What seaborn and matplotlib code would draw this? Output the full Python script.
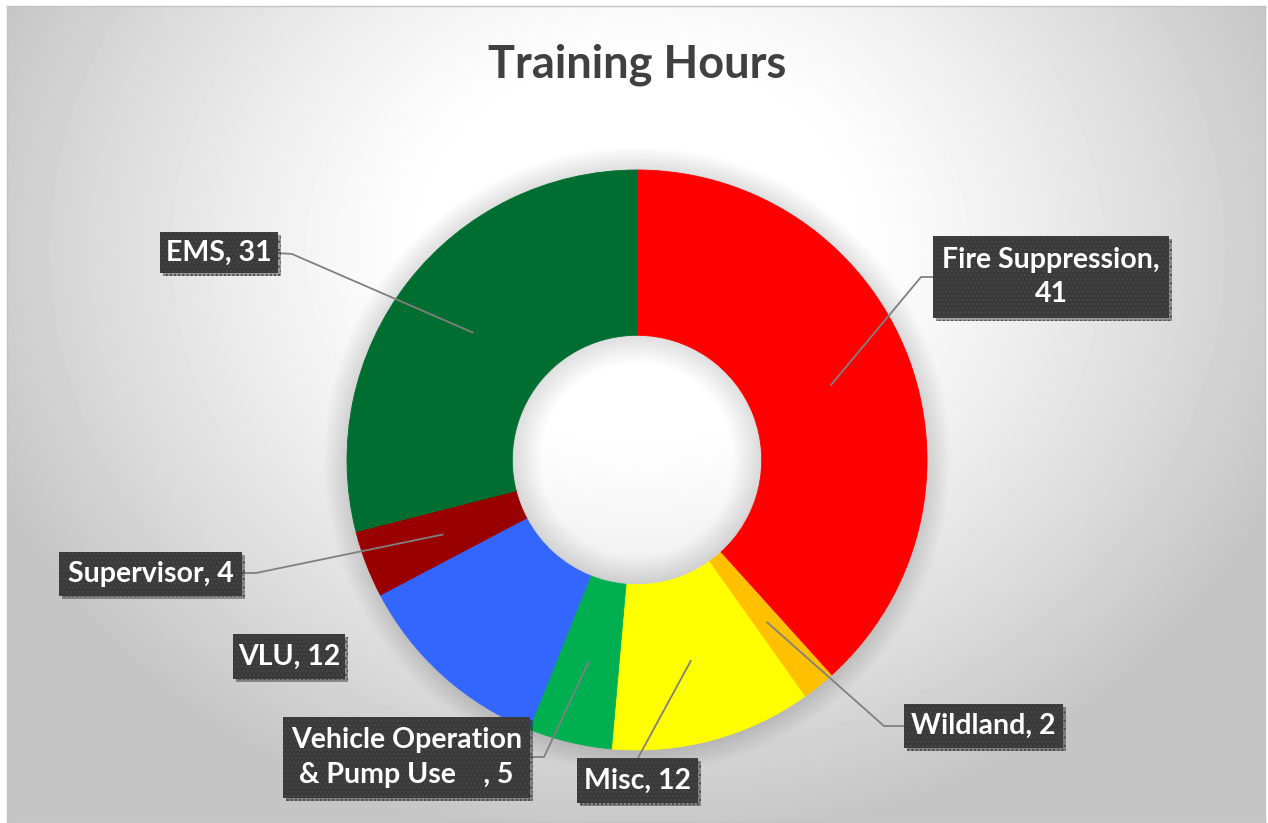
import matplotlib.pyplot as plt
import matplotlib.patheffects as pe
import numpy as np
import seaborn as sns
from matplotlib.patches import Rectangle, Wedge

# Theme first, font list after (set_theme resets font.family)
sns.set_theme(style="white")
plt.rcParams["font.family"] = ["Lato", "DejaVu Sans"]

# ---- data (clockwise from 12 o'clock) ----
categories = ["Fire Suppression", "Wildland", "Misc", "Vehicle Operation\n& Pump Use    ",
              "VLU", "Supervisor", "EMS"]
hours = [41, 2, 12, 5, 12, 4, 31]
label_sep = [",\n", ", ", ", ", ", ", ", ", ", ", ", "]
slice_colors = ["#FF0000", "#FFC000", "#FFFF00", "#00B050", "#3366FF", "#990000", "#006E30"]

# ---- layout (pixels, origin top-left) ----
W, H = 1268, 823
CX, CY, R = 637, 460, 290
RING = 0.57
# label boxes: left, top, right, bottom
boxes = [
    (933, 236, 1169, 318),
    (904, 704, 1063, 748),
    (577, 758, 698, 803),
    (283, 717, 530, 798),
    (233, 634, 345, 679),
    (59, 552, 242, 596),
    (160, 232, 278, 273),
]
# leader start point on box and elbow (None = no leader / straight line)
leaders = [
    ((933, 277), (921, 277)),
    ((904, 726), (884, 726)),
    ((638, 758), None),
    ((530, 757), (544, 757)),
    None,
    ((242, 573), (256, 573)),
    ((278, 253), (292, 254)),
]


def to_data(px, py):
    """Pixel (top-left origin) -> pie axes data units."""
    return (px - CX) / R, (CY - py) / R


def draw_background(fig):
    bg = fig.add_axes([7 / W, 1 - 822 / H, (1265 - 7) / W, (822 - 6) / H])
    yy, xx = np.mgrid[6:822, 7:1265]
    t = np.sqrt(((xx - 637) / 700.0) ** 2 + ((yy - 250) / 600.0) ** 2)
    v = 1 - 0.23 * np.clip((t - 0.3) / 0.7, 0, 1) ** 1.2
    bg.imshow(v, cmap="gray", vmin=0, vmax=1, aspect="auto", interpolation="bilinear")
    bg.set_xticks([])
    bg.set_yticks([])
    for s in bg.spines.values():
        s.set_color("#c4c4c4")
        s.set_linewidth(1)


def main():
    fig = plt.figure(figsize=(W / 100, H / 100), dpi=100)
    fig.patch.set_facecolor("white")
    draw_background(fig)

    fig.text(637 / W, 1 - 77 / H, "Training Hours", ha="center", va="baseline",
             fontsize=32.5, fontweight="bold", color="#404040")

    ax = fig.add_axes([(CX - R) / W, 1 - (CY + R) / H, 2 * R / W, 2 * R / H])
    wedges, _ = ax.pie(hours, colors=slice_colors, startangle=90, counterclock=False,
                       wedgeprops=dict(width=RING, linewidth=0.6))
    for w in wedges:
        w.set_edgecolor(w.get_facecolor())
        w.set_zorder(3)

    # soft shadow round the ring (outside) and inside the hole
    inner = 1 - RING
    for k in range(16):
        ax.add_patch(Wedge((0, 0), 1 + 0.005 * (k + 1), 0, 360, width=0.005 * (k + 1) + 0.01,
                           color="black", alpha=0.009, lw=0, zorder=1, clip_on=False))
    for k in range(16):
        ax.add_patch(Wedge((0, 0), inner, 0, 360, width=0.006 * (k + 1),
                           color="black", alpha=0.009, lw=0, zorder=1))

    ax.set_xlim(-1, 1)
    ax.set_ylim(-1, 1)
    ax.axis("off")

    mid_r = 1 - RING / 2
    for w, cat, val, sep, box, lead in zip(wedges, categories, hours, label_sep, boxes, leaders):
        if lead is not None:
            ang = np.deg2rad((w.theta1 + w.theta2) / 2)
            anchor = (mid_r * np.cos(ang), mid_r * np.sin(ang))
            pts = [to_data(*lead[0])]
            if lead[1] is not None:
                pts.append(to_data(*lead[1]))
            pts.append(anchor)
            xs, ys = zip(*pts)
            ax.plot(xs, ys, color="#808080", lw=1.3, zorder=5, clip_on=False,
                    solid_capstyle="butt")

        l, t, r, b = box
        x0, y0 = to_data(l, b)
        x1, y1 = to_data(r, t)
        rect = Rectangle((x0, y0), x1 - x0, y1 - y0, facecolor="#3a3a3a",
                         edgecolor="#474747", hatch="....", lw=0, zorder=6, clip_on=False)
        rect.set_path_effects([pe.SimplePatchShadow(offset=(2.5, -2.5), shadow_rgbFace="black",
                                                    alpha=0.35), pe.Normal()])
        ax.add_patch(rect)
        ax.text((x0 + x1) / 2, (y0 + y1) / 2, f"{cat}{sep}{val}", ha="center", va="center",
                color="white", fontsize=20.5, fontweight="bold", zorder=7, linespacing=1.42,
                clip_on=False)

    fig.savefig("out.png", dpi=100, facecolor="white")
    plt.close(fig)


if __name__ == "__main__":
    main()
